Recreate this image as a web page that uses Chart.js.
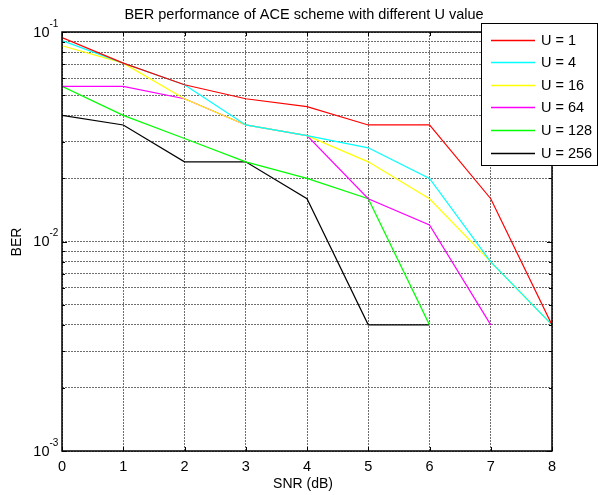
<!DOCTYPE html>
<html>
<head>
<meta charset="utf-8">
<script src="https://cdn.jsdelivr.net/npm/chart.js@4"></script>
<style>
  html, body { margin: 0; padding: 0; background: #fff; }
  #wrap { width: 598px; height: 495px; }
</style>
</head>
<body>
<div id="wrap"><canvas id="chart" width="598" height="495"></canvas></div>
<script>
// data
const snr = [0, 1, 2, 3, 4, 5, 6, 7, 8];
const labels = ['U = 1', 'U = 4', 'U = 16', 'U = 64', 'U = 128', 'U = 256'];
const colors = ['#ff0000', '#00ffff', '#ffff00', '#ff00ff', '#00ff00', '#000000'];
const u1 = [0.094, 0.071, 0.056, 0.048, 0.044, 0.036, 0.036, 0.016, 0.004];
const u4 = [0.091, 0.071, 0.056, 0.036, 0.032, 0.028, 0.020, 0.008, 0.004];
const u16 = [0.086, 0.071, 0.048, 0.036, 0.032, 0.024, 0.016, 0.008, 0.004];
const u64 = [0.055, 0.055, 0.048, 0.036, 0.032, 0.016, 0.012, 0.004, null];
const u128 = [0.055, 0.040, 0.031, 0.024, 0.020, 0.016, 0.004, null, null];
const u256 = [0.040, 0.036, 0.024, 0.024, 0.016, 0.004, 0.004, null, null];
const yTicks = [0.001, 0.002, 0.003, 0.004, 0.005, 0.006, 0.007, 0.008, 0.009,
  0.01, 0.02, 0.03, 0.04, 0.05, 0.06, 0.07, 0.08, 0.09, 0.1];
const yDecades = [0.1, 0.01, 0.001];
const decadeExp = ['-1', '-2', '-3'];

const FONT = "'Liberation Sans', Arial, sans-serif";
const series = [u1, u4, u16, u64, u128, u256];

const matlabLook = {
  id: 'matlabLook',
  afterDraw(c) {
    const ctx = c.ctx, a = c.chartArea;
    const xs = c.scales.x, ys = c.scales.y;
    ctx.save();
    // frame
    ctx.strokeStyle = '#000';
    ctx.lineWidth = 1.5;
    ctx.strokeRect(a.left, a.top, a.right - a.left, a.bottom - a.top);
    // inward ticks
    ctx.lineWidth = 1;
    ctx.beginPath();
    snr.forEach(v => {
      const px = Math.round(xs.getPixelForValue(v)) + 0.5;
      ctx.moveTo(px, a.bottom); ctx.lineTo(px, a.bottom - 4);
      ctx.moveTo(px, a.top); ctx.lineTo(px, a.top + 4);
    });
    yTicks.forEach(v => {
      const py = Math.round(ys.getPixelForValue(v)) + 0.5;
      const len = yDecades.includes(v) ? 5 : 3;
      ctx.moveTo(a.left, py); ctx.lineTo(a.left + len, py);
      ctx.moveTo(a.right, py); ctx.lineTo(a.right - len, py);
    });
    ctx.stroke();
    // y tick labels 10^n
    ctx.fillStyle = '#000';
    yDecades.forEach((v, i) => {
      const py = ys.getPixelForValue(v);
      ctx.font = '14.5px ' + FONT;
      ctx.textAlign = 'right';
      ctx.textBaseline = 'middle';
      ctx.fillText('10', 49.5, py + 0.5);
      ctx.font = '10px ' + FONT;
      ctx.textAlign = 'left';
      ctx.fillText(decadeExp[i], 49.5, py - 8);
    });
    // title and axis titles
    ctx.font = '14.5px ' + FONT;
    ctx.textAlign = 'center';
    ctx.textBaseline = 'middle';
    ctx.fillText('BER performance of ACE scheme with different U value', 304, 14.5);
    ctx.font = '14px ' + FONT;
    ctx.fillText('SNR (dB)', 303, 484);
    ctx.save();
    ctx.translate(17, 242);
    ctx.rotate(-Math.PI / 2);
    ctx.fillText('BER', 0, 0);
    ctx.restore();
    // legend
    const bx = 481, by = 23, bw = 116, bh = 142;
    ctx.fillStyle = '#fff';
    ctx.fillRect(bx, by, bw, bh);
    ctx.strokeStyle = '#000';
    ctx.lineWidth = 1;
    ctx.strokeRect(bx + 0.5, by + 0.5, bw, bh);
    ctx.font = '14.5px ' + FONT;
    ctx.textAlign = 'left';
    c.data.datasets.forEach((ds, i) => {
      const ry = 39.5 + i * 22.6;
      ctx.strokeStyle = ds.borderColor;
      ctx.lineWidth = 1.3;
      ctx.beginPath();
      ctx.moveTo(491, Math.round(ry) + 0.5);
      ctx.lineTo(535, Math.round(ry) + 0.5);
      ctx.stroke();
      ctx.fillStyle = '#000';
      ctx.fillText(ds.label, 541, ry + 1);
    });
    ctx.restore();
  }
};

new Chart(document.getElementById('chart'), {
  type: 'line',
  data: {
    datasets: series.map((s, i) => ({
      label: labels[i],
      data: snr.map((x, j) => ({ x, y: s[j] })).filter(p => p.y !== null),
      borderColor: colors[i],
      borderWidth: 1.2,
      pointRadius: 0,
      fill: false,
      tension: 0
    }))
  },
  options: {
    responsive: false,
    animation: false,
    layout: { padding: { top: 32, right: 46, left: 0, bottom: 0 } },
    plugins: { legend: { display: false }, title: { display: false }, tooltip: { enabled: false } },
    scales: {
      x: {
        type: 'linear', min: 0, max: 8,
        afterFit: s => { s.height = 44; },
        afterBuildTicks: s => { s.ticks = snr.map(v => ({ value: v })); },
        ticks: { color: '#000', padding: 7, font: { family: FONT, size: 14.5 }, maxRotation: 0 },
        grid: { color: '#6e6e6e', lineWidth: 1, drawTicks: false },
        border: { display: false, dash: [2, 1] }
      },
      y: {
        type: 'logarithmic', min: 0.001, max: 0.1,
        afterFit: s => { s.width = 62; },
        afterBuildTicks: s => { s.ticks = yTicks.map(v => ({ value: v })); },
        ticks: { display: false },
        grid: { color: '#6e6e6e', lineWidth: 1, drawTicks: false },
        border: { display: false, dash: [2, 1] }
      }
    }
  },
  plugins: [matlabLook]
});
</script>
</body>
</html>
